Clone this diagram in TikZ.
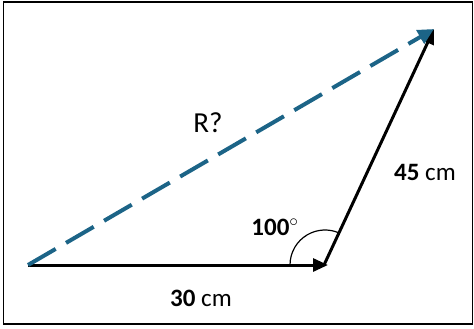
\documentclass[tikz,border=0pt]{standalone}
\usepackage{fontspec}
\setmainfont{Carlito}
\usetikzlibrary{arrows.meta}
\definecolor{rblue}{RGB}{28,100,135}
\begin{document}
\begin{tikzpicture}[x=1pt,y=-1pt,
  vec/.style={line width=3pt,-{Triangle[length=15pt,width=13pt]}},
  rvec/.style={rblue,line width=4pt,dash pattern=on 32pt off 12pt,-{Triangle[length=16pt,width=15pt]}},
  lbl/.style={font=\fontsize{25}{30}\selectfont,inner sep=0pt}]
\useasboundingbox (0,0) rectangle (474,329);
\draw[line width=1.5pt] (3.5,2) rectangle (472.5,324);
\coordinate (A) at (28,265);
\coordinate (B) at (328,265);
\coordinate (Bs) at (324,265);
\coordinate (C) at (434,29);
\draw[line width=1.2pt] (325,265) ++(180:35) arc[start angle=180,end angle=294,radius=35];
\draw[vec] (A) -- (B);
\draw[vec] (Bs) -- (C);
\draw[rvec] (A) -- (C);
\node[lbl] (l30) at (201,298) {\textbf{30} cm};
\node[lbl] (l45) at (425,172) {\textbf{45} cm};
\node[lbl] (l100) at (275,227) {\textbf{100}$^\circ$};
\node[lbl,font=\fontsize{29}{34}\selectfont] (lR) at (208,123) {R?};
\end{tikzpicture}
\end{document}
